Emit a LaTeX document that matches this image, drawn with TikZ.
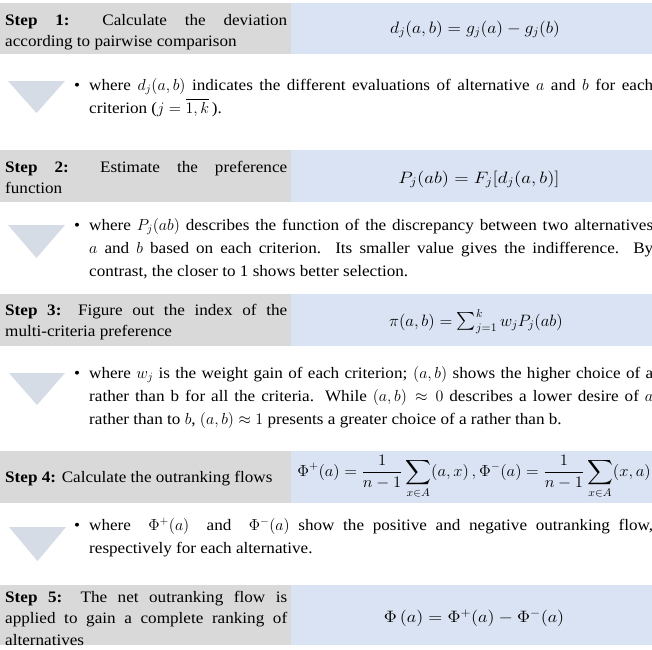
\RequirePackage{fix-cm}
\documentclass[tikz,border=0pt]{standalone}
\usepackage{amsmath}
\usepackage{graphicx}
\usepackage{fontspec}
\setmainfont{Liberation Serif}[FakeStretch=1.07]
\definecolor{stepgray}{HTML}{D9D9D9}
\definecolor{formblue}{HTML}{DAE3F3}
\definecolor{trifill}{HTML}{D6DCE5}
\tikzset{
  graybox/.style={fill=stepgray, draw=none},
  bluebox/.style={fill=formblue, draw=none},
  steptext/.style={anchor=base west, inner sep=0pt, text width=282pt, align=justify,
     font=\fontsize{16}{21.5}\selectfont},
  formula/.style={anchor=base, inner sep=0pt, font=\fontsize{16}{20}\selectfont},
  bulletmark/.style={anchor=base, inner sep=0pt, font=\fontsize{16}{20}\selectfont},
  paratext/.style={anchor=base west, inner sep=0pt, text width=564pt, align=justify,
     font=\fontsize{16}{23}\selectfont},
  tri/.style={fill=trifill, draw=none}
}
\begin{document}
\begin{tikzpicture}[x=1pt,y=-1pt]
\useasboundingbox (0,0) rectangle (652,649);
\clip (0,0) rectangle (652,649);
\fill[white] (0,0) rectangle (652,649);

% Step 1
\fill[graybox] (0,3) rectangle (291,54);
\fill[bluebox] (291,3) rectangle (652,54);
\node[steptext] (s1) at (5,25) {\textbf{Step 1:} Calculate the deviation\linebreak according to pairwise comparison};
\node[formula] (f1) at (475,33) {\scalebox{1.1}[1.03]{$d_j(a,b)=g_j(a)-g_j(b)$}};
\fill[tri] (8,81) -- (65,81) -- (36.5,113) -- cycle;
\node[bulletmark] (b1) at (77,90) {•};
\node[paratext] (p1) at (89,90) {where $d_j(a,b)$ indicates the different evaluations of alternative $a$ and $b$ for each\linebreak criterion ($j=\overline{1,k}$\,).};

% Step 2
\fill[graybox] (0,150) rectangle (291,202);
\fill[bluebox] (291,150) rectangle (652,202);
\node[steptext] (s2) at (5,172) {\textbf{Step 2:} Estimate the preference\linebreak function};
\node[formula] (f2) at (479,183) {\scalebox{1.18}[1.03]{$P_j(ab)=F_j[d_j(a,b)]$}};
\fill[tri] (8,225) -- (65,225) -- (36.5,258) -- cycle;
\node[bulletmark] (b2) at (77,230) {•};
\node[paratext] (p2) at (89,230) {where $P_j(ab)$ describes the function of the discrepancy between two alternatives\linebreak $a$ and $b$ based on each criterion. Its smaller value gives the indifference. By\linebreak contrast, the closer to 1 shows better selection.};

% Step 3
\fill[graybox] (0,294) rectangle (291,346);
\fill[bluebox] (291,294) rectangle (652,346);
\node[steptext] (s3) at (5,315) {\textbf{Step 3:} Figure out the index of the\linebreak multi-criteria preference};
\node[formula] (f3) at (476,326) {\scalebox{1.05}[1.03]{$\pi(a,b)=\sum_{j=1}^{k}w_jP_j(ab)$}};
\fill[tri] (9,373) -- (65,373) -- (37,405) -- cycle;
\node[bulletmark] (b3) at (77,378) {•};
\node[paratext] (p3) at (89,378) {where $w_j$ is the weight gain of each criterion; $(a,b)$ shows the higher choice of a\linebreak rather than b for all the criteria. While $(a,b)\approx 0$ describes a lower desire of $a$\linebreak rather than to $b$, $(a,b)\approx 1$ presents a greater choice of a rather than b.};

% Step 4
\fill[graybox] (0,451) rectangle (291,503);
\fill[bluebox] (291,451) rectangle (652,503);
\node[steptext] (s4) at (5,482) {\textbf{Step 4:} Calculate the outranking flows};
\node[formula, anchor=center] (f4) at (474,477) {\scalebox{1.04}[1]{$\displaystyle \Phi^{+}(a)=\frac{1}{n-1}\sum_{x\in A}(a,x)\,,\Phi^{-}(a)=\frac{1}{n-1}\sum_{x\in A}(x,a)$}};
\fill[tri] (9,527) -- (66,527) -- (37.5,561) -- cycle;
\node[bulletmark] (b4) at (77,530) {•};
\node[paratext] (p4) at (89,530) {where\ \ $\Phi^{+}(a)$\ \ and\ \ $\Phi^{-}(a)$ show the positive and negative outranking flow,\linebreak respectively for each alternative.};

% Step 5
\fill[graybox] (0,585) rectangle (291,645);
\fill[bluebox] (291,585) rectangle (652,645);
\node[steptext] (s5) at (5,602) {\textbf{Step 5:} The net outranking flow is\linebreak applied to gain a complete ranking of\linebreak alternatives};
\node[formula] (f5) at (474,622) {\scalebox{1.15}[1.03]{$\Phi\,(a)=\Phi^{+}(a)-\Phi^{-}(a)$}};
\end{tikzpicture}
\end{document}
